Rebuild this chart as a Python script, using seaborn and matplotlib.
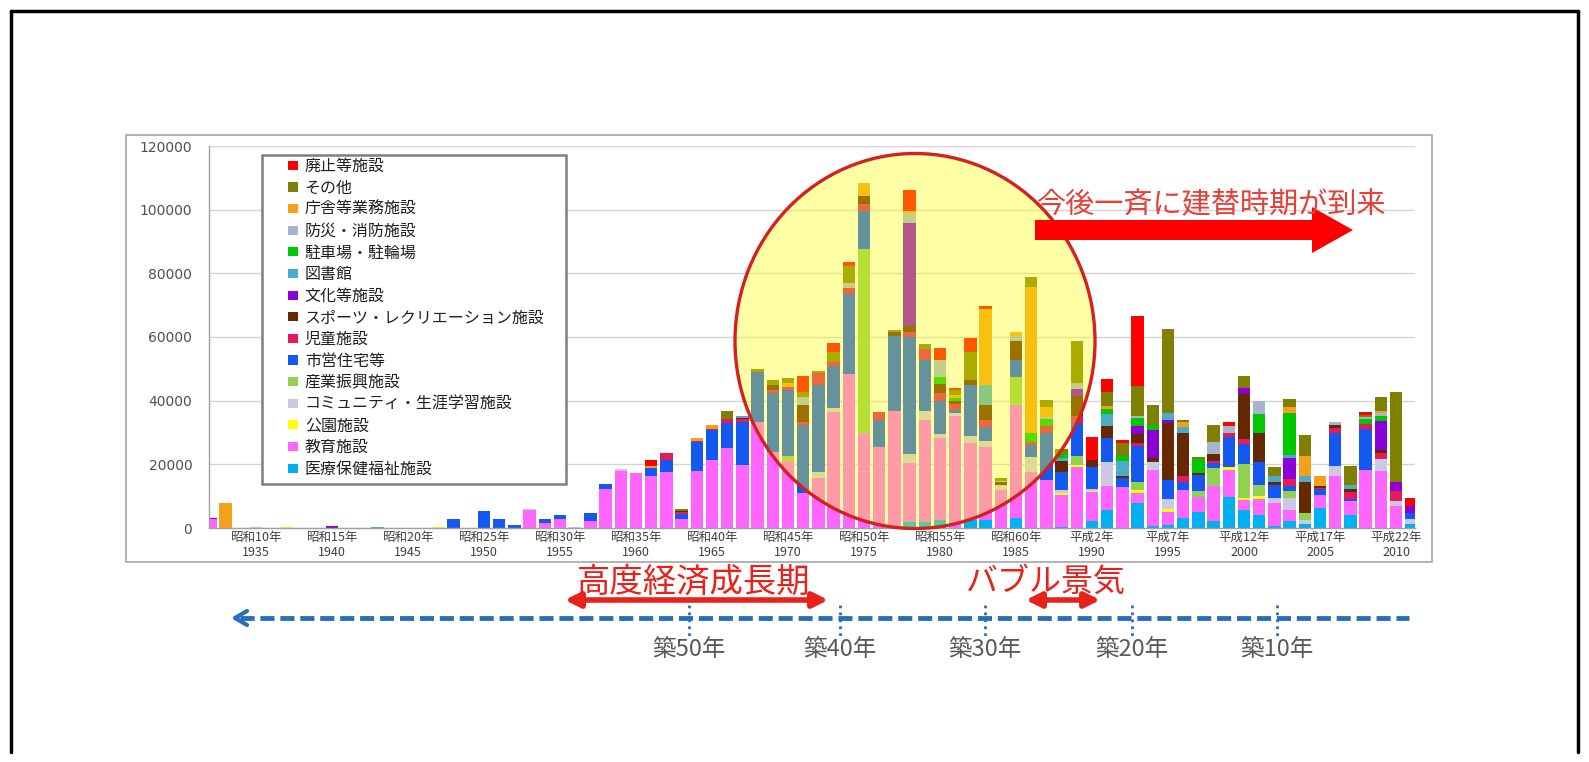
import matplotlib
matplotlib.use("Agg")
import matplotlib.pyplot as plt
import seaborn as sns
import pandas as pd
from matplotlib.patches import Ellipse, Polygon, Rectangle, Patch, FancyArrowPatch
from matplotlib.lines import Line2D

# ---------------- data ----------------
years = list(range(1932, 2012))

categories = ["廃止等施設", "その他", "庁舎等業務施設", "防災・消防施設", "駐車場・駐輪場",
              "図書館", "文化等施設", "スポーツ・レクリエーション施設", "児童施設", "市営住宅等",
              "産業振興施設", "コミュニティ・生涯学習施設", "公園施設", "教育施設", "医療保健福祉施設"]
colors = ["#FF0000", "#808000", "#F5A01A", "#A6B4CF", "#00C800",
          "#4BACC6", "#8B00D6", "#662800", "#E6195A", "#1558F0",
          "#92D050", "#C9C9E3", "#FFFF00", "#FF66FF", "#00B0F0"]

medical = {1978: 2000, 1979: 2000, 1980: 2600, 1982: 2600, 1983: 2600, 1985: 3100, 1988: 300,
           1990: 2100, 1991: 5800, 1993: 7900, 1994: 500, 1995: 1000, 1996: 3100, 1997: 4900,
           1998: 2100, 1999: 9700, 2000: 5500, 2001: 4200, 2002: 500, 2003: 2100, 2004: 1400,
           2005: 6300, 2007: 4200, 2011: 1400}
education = {1932: 2700, 1953: 5700, 1954: 1500, 1955: 2900, 1957: 2300, 1958: 12200, 1959: 18000,
             1960: 17400, 1961: 16400, 1962: 17500, 1963: 2700, 1964: 18000, 1965: 21400,
             1966: 25100, 1967: 19800, 1968: 33400, 1969: 24000, 1970: 20900, 1971: 11100,
             1972: 15600, 1973: 36300, 1974: 48400, 1975: 29800, 1976: 25600, 1977: 36600,
             1978: 18400, 1979: 32000, 1980: 25800, 1981: 35200, 1982: 24100, 1983: 23000,
             1984: 12000, 1985: 35600, 1986: 17700, 1987: 15100, 1988: 10200, 1989: 19200,
             1990: 9100, 1991: 7300, 1992: 12900, 1993: 3100, 1994: 17800, 1995: 4000,
             1996: 8700, 1997: 4800, 1998: 11000, 1999: 8600, 2000: 3400, 2001: 5000,
             2002: 7300, 2003: 3500, 2005: 4200, 2006: 16300, 2007: 4400, 2008: 18300,
             2009: 17800, 2010: 6800}
park = {1937: 300, 1947: 300, 1988: 500, 1989: 700, 1990: 500, 1993: 800, 1995: 900,
        1999: 800, 2000: 500, 2001: 700}
community = {1935: 300, 1953: 400, 1956: 400, 1959: 400, 1972: 2100, 1973: 1400, 1978: 2900,
             1979: 2600, 1980: 1000, 1981: 1000, 1982: 2100, 1983: 1600, 1984: 1600, 1986: 4700,
             1988: 800, 1990: 500, 1991: 7600, 1994: 2300, 1995: 3300, 2002: 1600, 2003: 3700,
             2004: 1000, 2006: 3100, 2009: 3900, 2010: 1600, 2011: 1300}
industry = {1970: 1600, 1975: 57700, 1985: 8700, 1989: 2600, 1993: 2600, 1997: 1800, 1998: 5800,
            2000: 10800, 2001: 3700, 2003: 2300, 2004: 2300}
housing = {1948: 2700, 1950: 5200, 1951: 2800, 1952: 1000, 1954: 1300, 1955: 1200, 1957: 2300,
           1958: 1600, 1961: 2600, 1962: 3900, 1963: 1800, 1964: 8900, 1965: 9400, 1966: 8000,
           1967: 13600, 1968: 15700, 1969: 18300, 1970: 20800, 1971: 21300, 1972: 27300,
           1973: 13100, 1974: 25200, 1975: 12000, 1976: 8400, 1977: 23600, 1978: 36700,
           1979: 16300, 1980: 10500, 1981: 1000, 1982: 16200, 1983: 4500, 1985: 5500, 1986: 3700,
           1987: 14900, 1988: 5800, 1989: 10500, 1990: 7000, 1991: 7500, 1992: 2800, 1993: 11300,
           1995: 6000, 1996: 2800, 1997: 5000, 1998: 1400, 1999: 9400, 2000: 6300, 2001: 7000,
           2002: 4000, 2003: 1600, 2005: 1600, 2006: 10500, 2007: 400, 2008: 12800, 2011: 1900}
children = {1962: 2100, 1963: 400, 1964: 300, 1965: 300, 1966: 1000, 1967: 700, 1969: 1000,
            1970: 1000, 1971: 1000, 1972: 3700, 1973: 1500, 1974: 1800, 1975: 2400, 1976: 2300,
            1978: 1500, 1979: 3400, 1980: 2600, 1981: 1600, 1983: 2300, 1986: 1000, 1987: 2100,
            1989: 2100, 1993: 1000, 1996: 1600, 1998: 700, 1999: 1500, 2000: 1500, 2003: 2100,
            2005: 500, 2006: 1600, 2007: 2400, 2008: 1700, 2009: 1900, 2010: 3100}
sports = {1963: 500, 1967: 600, 1969: 1500, 1971: 5200, 1975: 2300, 1977: 1300, 1978: 1900,
          1980: 2600, 1981: 1000, 1982: 1600, 1983: 4700, 1984: 700, 1985: 5800, 1988: 3300,
          1989: 6300, 1990: 2300, 1991: 3800, 1992: 700, 1993: 2800, 1994: 1400, 1995: 17800,
          1996: 13800, 1997: 700, 1998: 2400, 2000: 14200, 2001: 9200, 2002: 900, 2004: 9600,
          2005: 500, 2006: 700, 2007: 1000, 2009: 1000}
culture = {1932: 400, 1940: 700, 1978: 32300, 1989: 2400, 1993: 2400, 1994: 8700, 1995: 800,
           2000: 1900, 2003: 6800, 2009: 8900, 2010: 2800, 2011: 2300}
library = {1943: 300, 1967: 500, 1983: 6300, 1988: 1000, 1991: 3900, 1992: 4500, 1995: 2300,
           1996: 1800, 2002: 1900, 2003: 800, 2004: 2100, 2007: 1000}
parking = {1980: 2200, 1981: 1000, 1986: 2600, 1987: 2100, 1988: 1500, 1991: 1600, 1992: 1600,
           1993: 2500, 1994: 1600, 1997: 4400, 2001: 6100, 2003: 13100, 2008: 1300, 2009: 1600}
disaster = {1971: 2600, 1974: 1600, 1978: 3100, 1980: 5500, 1984: 600, 1985: 1600, 1987: 800,
            1989: 1800, 1993: 800, 1998: 3500, 1999: 1900, 2001: 4000, 2006: 1000, 2008: 700,
            2009: 1000}
government = {1933: 7700, 1961: 500, 1964: 1100, 1965: 1100, 1970: 1300, 1975: 4200, 1978: 900,
              1981: 1000, 1983: 23800, 1985: 1300, 1986: 45900, 1987: 3100, 1991: 800, 1996: 1400,
              2003: 2100, 2004: 6100, 2005: 3100, 2009: 800}
other = {1963: 700, 1966: 2600, 1968: 700, 1969: 1600, 1970: 1600, 1971: 1600, 1972: 700,
         1973: 2900, 1974: 5200, 1977: 800, 1979: 1600, 1981: 1400, 1982: 8600, 1984: 700,
         1986: 3400, 1987: 2100, 1988: 1400, 1989: 13100, 1991: 4400, 1992: 4200, 1993: 9400,
         1994: 6300, 1995: 26500, 1996: 700, 1997: 700, 1998: 5600, 2000: 3700, 2002: 3100,
         2003: 2300, 2004: 6600, 2007: 6100, 2008: 800, 2009: 4200, 2010: 28300}
abolished = {1961: 1800, 1971: 4900, 1973: 3000, 1974: 1300, 1978: 6600, 1980: 3700, 1981: 900,
             1982: 4500, 1983: 800, 1990: 7000, 1991: 4200, 1992: 800, 1993: 22000, 1999: 1300,
             2008: 800, 2011: 2400}

series = [abolished, other, government, disaster, parking, library, culture, sports,
          children, housing, industry, community, park, education, medical]

tick_years = [1935, 1940, 1945, 1950, 1955, 1960, 1965, 1970, 1975, 1980, 1985, 1990, 1995,
              2000, 2005, 2010]
tick_eras = ["昭和10年", "昭和15年", "昭和20年", "昭和25年", "昭和30年", "昭和35年", "昭和40年",
             "昭和45年", "昭和50年", "昭和55年", "昭和60年", "平成2年", "平成7年", "平成12年",
             "平成17年", "平成22年"]
yticks = [0, 20000, 40000, 60000, 80000, 100000, 120000]

age_marks = ["築50年", "築40年", "築30年", "築20年", "築10年"]

# ---------------- figure ----------------
W, H = 1589, 762
sns.set_theme(style="white")
plt.rcParams["font.family"] = ["Noto Sans CJK JP", "DejaVu Sans"]

rows = []
for cat, s in zip(categories, series):
    for y in years:
        rows.append({"year": y, "category": cat, "value": s.get(y, 0)})
df = pd.DataFrame(rows)

fig = plt.figure(figsize=(W / 100, H / 100), dpi=100)
fig.patch.set_facecolor("white")


def fx(px):
    return px / W


def fy(py):
    return 1 - py / H


# slide frame
fig.add_artist(Line2D([fx(11), fx(11)], [fy(11), fy(752)], color="black", lw=2.5, zorder=0))
fig.add_artist(Line2D([fx(11), fx(1578)], [fy(11), fy(11)], color="black", lw=2.5, zorder=0))
fig.add_artist(Line2D([fx(1578), fx(1578)], [fy(11), fy(752)], color="black", lw=2.5, zorder=0))

# chart box
fig.add_artist(Rectangle((fx(126), fy(562)), fx(1432) - fx(126), fy(135) - fy(562),
                         transform=fig.transFigure, facecolor="white", edgecolor="#A6A6A6",
                         lw=1.2, zorder=-1))

ax = fig.add_axes([fx(209), fy(528), fx(1415) - fx(209), fy(146) - fy(528)])
ax.set_facecolor("none")

sns.histplot(data=df, x="year", weights="value", hue="category", hue_order=categories,
             palette=colors, multiple="stack", discrete=True, shrink=0.82, linewidth=0,
             alpha=1, legend=False, ax=ax)

ax.set_xlim(1931.91, 2011.25)
ax.set_ylim(0, 120000)
ax.set_xlabel("")
ax.set_ylabel("")
ax.set_yticks(yticks)
ax.set_yticklabels([str(v) for v in yticks], fontsize=10, color="#505050",
                   family=["DejaVu Sans"])
ax.set_xticks(tick_years)
ax.set_xticklabels([f"{e}\n{y}" for e, y in zip(tick_eras, tick_years)], fontsize=9,
                   color="#404040", linespacing=1.2)
ax.set_xticks([y + 0.5 for y in years[:-1]], minor=True)
ax.tick_params(axis="x", which="major", length=0, pad=2)
ax.tick_params(axis="x", which="minor", length=4, color="#A0A0A0", direction="out")
ax.tick_params(axis="y", which="major", length=5, color="#A0A0A0", direction="out", pad=7)
ax.yaxis.grid(True, color="#D4D4D4", lw=1)
ax.xaxis.grid(False)
ax.set_axisbelow(True)
for side in ["top", "right"]:
    ax.spines[side].set_visible(False)
for side in ["left", "bottom"]:
    ax.spines[side].set_color("#A0A0A0")
    ax.spines[side].set_linewidth(1)

# legend with separate frame
ax.add_artist(Rectangle((fx(262), fy(484)), fx(566) - fx(262), fy(155) - fy(484),
                        transform=fig.transFigure, facecolor="white", edgecolor="#7F7F7F",
                        lw=1.8, zorder=4, clip_on=False))
handles = [Patch(facecolor=c, edgecolor="none") for c in colors]
leg = ax.legend(handles, categories, loc="upper left", bbox_to_anchor=(fx(288), fy(158)),
                bbox_transform=fig.transFigure, frameon=False, fontsize=11.5, handlelength=0.6,
                handleheight=0.5, handletextpad=0.45, labelspacing=0.29, borderpad=0,
                borderaxespad=0)
leg.set_zorder(5)
for t in leg.get_texts():
    t.set_color("#202020")

# highlight ellipse
fig.add_artist(Ellipse((fx(915), fy(341)), 360 / W, 375 / H, transform=fig.transFigure,
                       facecolor=(1, 1, 0, 0.35), edgecolor="none", zorder=5))
fig.add_artist(Ellipse((fx(915), fy(341)), 360 / W, 375 / H, transform=fig.transFigure,
                       facecolor="none", edgecolor="#D42020", lw=2.4, zorder=6))

# big red arrow + message
arrow_px = [(1035, 220), (1312, 220), (1312, 207), (1353, 230), (1312, 253), (1312, 240),
            (1035, 240)]
fig.add_artist(Polygon([(fx(x), fy(y)) for x, y in arrow_px], closed=True,
                       transform=fig.transFigure, facecolor="#FF0000", edgecolor="none",
                       zorder=7))
fig.text(fx(1212), fy(205), "今後一斉に建替時期が到来", color="#E5403A", fontsize=21,
         ha="center", va="center", zorder=7)

# period annotations
red = "#E8221B"
fig.text(fx(694), fy(582), "高度経済成長期", color=red, fontsize=24, ha="center",
         va="center")
fig.text(fx(1046), fy(582), "バブル景気", color=red, fontsize=23, ha="center", va="center")
for x0, x1 in [(562, 831), (1023, 1103)]:
    fig.add_artist(FancyArrowPatch((fx(x0), fy(600)), (fx(x1), fy(600)),
                                   transform=fig.transFigure, arrowstyle="<|-|>",
                                   mutation_scale=22, lw=4, color=red))

# age timeline
blue = "#2A6EBB"
fig.add_artist(Line2D([fx(240), fx(1409)], [fy(618), fy(618)], color=blue, lw=3.5,
                      linestyle=(0, (2.9, 1.2))))
fig.add_artist(Line2D([fx(247), fx(235), fx(247)], [fy(611), fy(618), fy(625)], color=blue,
                      lw=3))
for xm, lab in zip([689, 840, 985, 1132, 1277], age_marks):
    fig.add_artist(Line2D([fx(xm), fx(xm)], [fy(605), fy(636)], color=blue, lw=2,
                          linestyle=(0, (1, 1.5))))
    fig.text(fx(xm), fy(650), lab, color="#595959", fontsize=17, ha="center", va="center")

fig.savefig("out.png", dpi=100, facecolor="white")
